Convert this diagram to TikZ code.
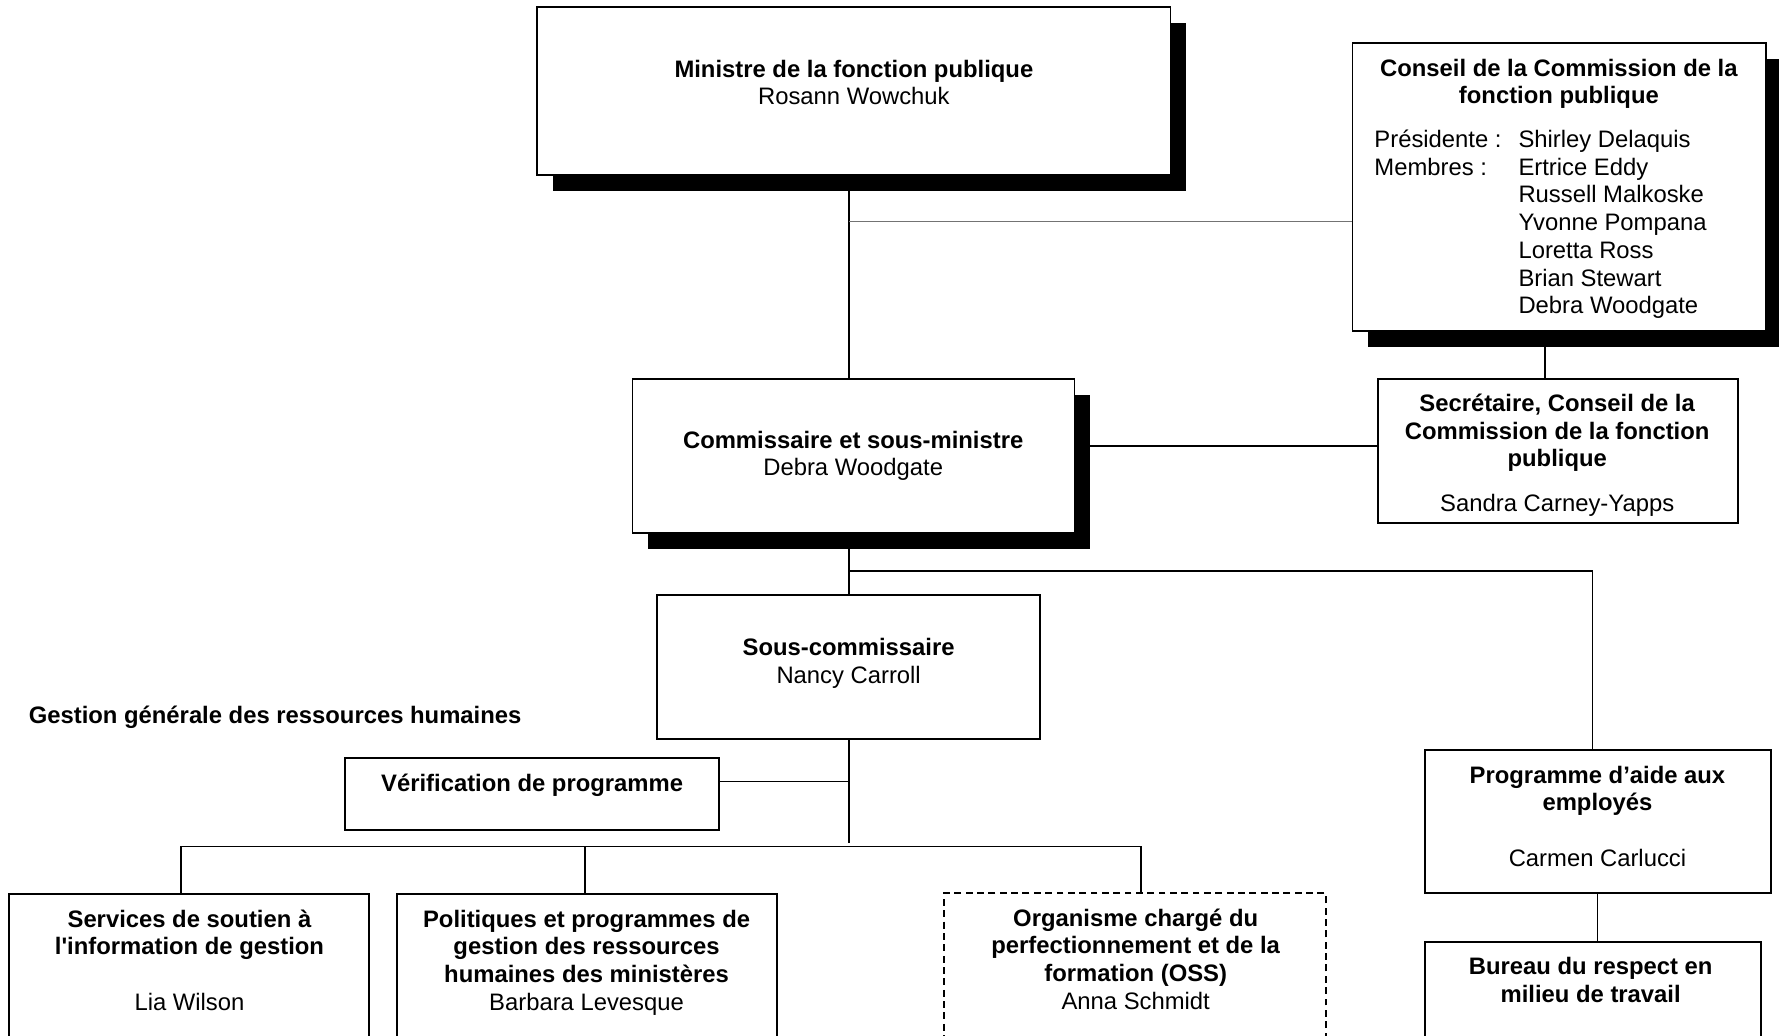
\documentclass[tikz,border=0pt]{standalone}
\usepackage{fontspec}
\setmainfont{Liberation Sans}
\usetikzlibrary{shadows,calc}
\newcommand\fs{\fontsize{10.5}{12.2}\selectfont}
\newcommand\orgbox[6]{%
  \pgfmathsetmacro\obw{(#4-#2)*0.5}%
  \pgfmathsetmacro\obh{(#5-#3)*0.5}%
  \node[#6,minimum width=\obw pt,minimum height=\obh pt] (#1) at ({(#2+#4)/2},{(#3+#5)/2}) {};}
\begin{document}
\begin{tikzpicture}[x=0.5pt,y=-0.5pt,
  box/.style={draw,rectangle,line width=0.8pt,fill=white,inner sep=0pt,outer sep=0pt},
  sbox/.style={box,drop shadow={shadow xshift=7pt,shadow yshift=-7pt,opacity=1,fill=black}},
  dbox/.style={box,dash pattern=on 3pt off 2pt},
  conn/.style={line width=0.65pt},
  thinconn/.style={line width=0.45pt,black!55},
  txt/.style={inner sep=0pt,align=center,font=\fs}]
\useasboundingbox (0,0) rectangle (1568,913);
\clip (0,0) rectangle (1568,913);
% boxes
\orgbox{min}{473.6}{5.9}{1031.6}{154.2}{sbox}
\orgbox{cons}{1192}{37.6}{1556.5}{291.7}{sbox}
\orgbox{com}{557.5}{334}{947}{469.5}{sbox}
\orgbox{sec}{1214.3}{334}{1531.6}{461.2}{box}
\orgbox{sous}{579.3}{524.1}{916.9}{651.3}{box}
\orgbox{ver}{304}{667.8}{633.7}{731.5}{box}
\orgbox{srv}{8.2}{788.2}{325.2}{950}{box}
\orgbox{pol}{349.6}{788.2}{685}{950}{box}
\orgbox{org}{832.3}{787.3}{1168.4}{950}{dbox}
\orgbox{pae}{1256}{661}{1560.6}{787.3}{box}
\orgbox{bur}{1256}{830.5}{1552}{950}{box}
% helper coordinates
\coordinate (spine) at (748.5,0);
\coordinate (greyY) at (0,195.4);
\coordinate (c1) at (1361.7,0);
\coordinate (secY) at (0,393);
\coordinate (busA) at (0,503.3);
\coordinate (paeX) at (1403.7,0);
\coordinate (verY) at (0,689);
\coordinate (spineEnd) at (748.5,742.7);
\coordinate (bus) at (0,746.2);
\coordinate (d1) at (159.5,0);
\coordinate (d2) at (515.6,0);
\coordinate (d3) at (1005.6,0);
\coordinate (burX) at (1407.8,0);
% connectors
\draw[conn] (min.south -| spine) -- (com.north -| spine);
\draw[thinconn] (spine |- greyY) -- (cons.west |- greyY);
\draw[conn] (cons.south -| c1) -- (sec.north -| c1);
\draw[conn] (com.east |- secY) -- (sec.west |- secY);
\draw[conn] (com.south -| spine) -- (sous.north -| spine);
\draw[conn] (spine |- busA) -- (paeX |- busA) -- (pae.north -| paeX);
\draw[conn] (sous.south -| spine) -- (spineEnd);
\draw[conn] (ver.east |- verY) -- (spine |- verY);
\draw[conn] (srv.north -| d1) -- (d1 |- bus) -- (d3 |- bus) -- (org.north -| d3);
\draw[conn] (pol.north -| d2) -- (d2 |- bus);
\draw[conn] (pae.south -| burX) -- (bur.north -| burX);
% texts (anchor=base = baseline of the last line)
\node[txt,anchor=base] (tmin) at (752.6,92.5) {\textbf{Ministre de la fonction publique}\\Rosann Wowchuk};
\node[txt,anchor=base] (tcons) at (1374,91.5) {\textbf{Conseil de la Commission de la}\\\textbf{fonction publique}};
\node[txt,align=left,anchor=base west] (tconsl) at (1211,154.5) {Présidente :\\Membres :};
\node[txt,align=left,anchor=base west] (tconsn) at (1338,276.5) {Shirley Delaquis\\Ertrice Eddy\\Russell Malkoske\\Yvonne Pompana\\Loretta Ross\\Brian Stewart\\Debra Woodgate};
\node[txt,anchor=base] (tcom) at (752,419.5) {\textbf{Commissaire et sous-ministre}\\Debra Woodgate};
\node[txt,anchor=base] (tsec) at (1372.5,450.5) {\textbf{Secrétaire, Conseil de la}\\\textbf{Commission de la fonction}\\\textbf{publique}\\[7.3pt]Sandra Carney-Yapps};
\node[txt,anchor=base] (tsous) at (748,602.5) {\textbf{Sous-commissaire}\\Nancy Carroll};
\node[txt,anchor=base west,font=\fs\bfseries] (tgest) at (25,637.5) {Gestion générale des ressources humaines};
\node[txt,anchor=base,font=\fs\bfseries] (tver) at (469,697.5) {Vérification de programme};
\node[txt,anchor=base] (tsrv) at (167,890.5) {\textbf{Services de soutien à}\\\textbf{l\textquotesingle information de gestion}\\[12.2pt]Lia Wilson};
\node[txt,anchor=base] (tpol) at (517,890.5) {\textbf{Politiques et programmes de}\\\textbf{gestion des ressources}\\\textbf{humaines des ministères}\\Barbara Levesque};
\node[txt,anchor=base] (torg) at (1001,889.5) {\textbf{Organisme chargé du}\\\textbf{perfectionnement et de la}\\\textbf{formation (OSS)}\\Anna Schmidt};
\node[txt,anchor=base] (tpae) at (1408,763.5) {\textbf{Programme d’aide aux}\\\textbf{employés}\\[12.2pt]Carmen Carlucci};
\node[txt,anchor=base] (tbur) at (1402,883.5) {\textbf{Bureau du respect en}\\\textbf{milieu de travail}};
\end{tikzpicture}
\end{document}
